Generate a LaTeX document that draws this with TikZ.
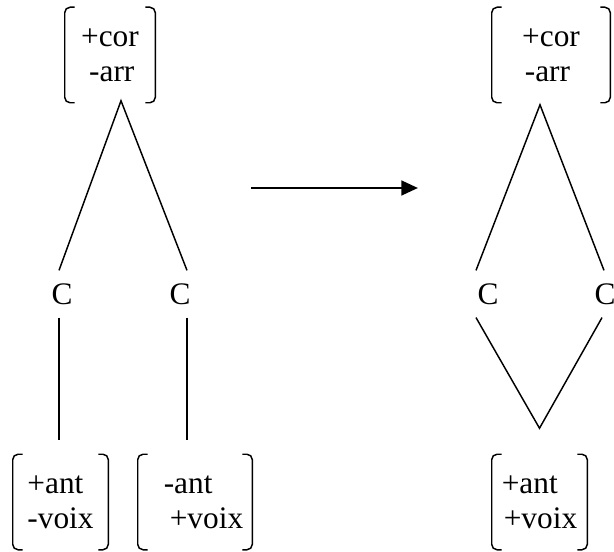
\documentclass[tikz,border=0pt]{standalone}
\usepackage{fontspec}
\setmainfont{Liberation Serif}
\usetikzlibrary{arrows.meta}
\tikzset{
  feat/.style={inner sep=0pt, minimum width=#1, minimum height=71.25pt, align=left},
  cons/.style={inner sep=0pt, minimum height=35pt},
  link/.style={line width=1.1pt},
  brk/.style={line width=1.1pt, rounded corners=4pt}
}
% square brackets round a feature node
\newcommand{\brackets}[1]{%
  \draw[brk] ([xshift=7.5pt]#1.north west) -- (#1.north west) -- (#1.south west) -- ([xshift=7.5pt]#1.south west);
  \draw[brk] ([xshift=-7.5pt]#1.north east) -- (#1.north east) -- (#1.south east) -- ([xshift=-7.5pt]#1.south east);}
\begin{document}
\begin{tikzpicture}[x=0.75pt, y=-0.75pt, font=\fontsize{23.5pt}{26pt}\selectfont]
        \clip (0,0) rectangle (614,552);
        % left tree
        \node[feat=67.5pt] (corL) at (110,55) {+cor\\\hspace*{6pt}-arr};
        \node[cons] (c1) at (62,294) {C};
        \node[cons] (c2) at (180,294) {C};
        \node[feat=71.25pt] (antL) at (60.5,502) {+ant\\-voix};
        \node[feat=85.5pt] (antM) at (195,502) {\hspace*{12.75pt}-ant\\\hspace*{17.25pt}+voix};
        \coordinate (apexL) at ([xshift=8.25pt, yshift=1.5pt]corL.south);
        \draw[link] ([xshift=-2.25pt]c1.north) -- (apexL) -- ([xshift=5.25pt]c2.north);
        \draw[link, shorten >=10.5pt] ([xshift=-2.25pt]c1.south) -- ([xshift=-2.25pt]c1.south |- antL.north);
        \draw[link, shorten >=10.5pt] ([xshift=5.25pt]c2.south) -- ([xshift=5.25pt]c2.south |- antM.north);
        % arrow
        \coordinate (arrS) at (251,188);
        \coordinate (arrE) at (418,188);
        \draw[line width=2pt, -{Triangle[length=12.5pt, width=11pt]}] (arrS) -- (arrE);
        % right tree
        \node[feat=88.5pt] (corR) at (551,55) {+cor\\\hspace*{2pt}-arr};
        \node[cons] (c3) at (488,294) {C};
        \node[cons] (c4) at (605,294) {C};
        \node[feat=71.25pt] (antR) at (539.5,502) {+ant\\\hspace*{1.5pt}+voix};
        \coordinate (apexR) at ([xshift=-8.25pt, yshift=-1.5pt]corR.south);
        \coordinate (tipR) at ([yshift=19.5pt]antR.north);
        \draw[link] ([xshift=-9pt]c3.north) -- (apexR) -- ([xshift=-0.75pt]c4.north);
        \draw[link] ([xshift=-9pt]c3.south) -- (tipR) -- ([xshift=-2.25pt]c4.south);
        \foreach \n in {corL, antL, antM, corR, antR} {\brackets{\n}}
    \end{tikzpicture}
\end{document}
